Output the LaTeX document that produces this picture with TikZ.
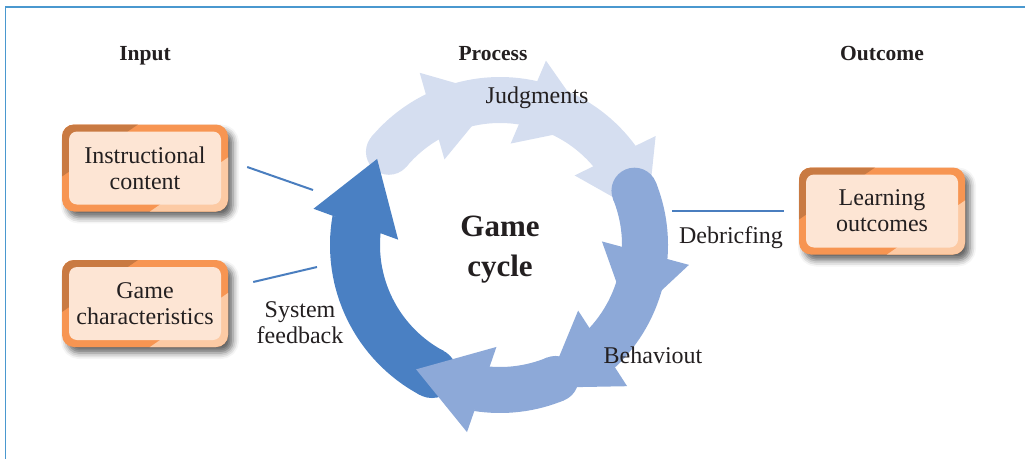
\documentclass[tikz,border=0pt]{standalone}
\usepackage{fontspec}
\setmainfont{Liberation Serif}
\usetikzlibrary{shadows.blur}

\definecolor{framecol}{HTML}{4A98CF}
\definecolor{linkcol}{HTML}{4A7EBF}
\definecolor{cyclight}{HTML}{D5DEF0}
\definecolor{cycmid}{HTML}{8DA9D8}
\definecolor{cycdark}{HTML}{4A80C3}
\definecolor{boxdark}{HTML}{C97A42}
\definecolor{boxmid}{HTML}{F79552}
\definecolor{boxlight}{HTML}{FCCAA4}
\definecolor{boxfill}{HTML}{FDE5D4}
\definecolor{txt}{HTML}{231F20}

% one curved piece of the ring: colour, tail angle, head angle, width
% (angles run clockwise, measured from the right)
\newcommand*{\cyclearrow}[4]{%
	\fill[#1] (-#2:145) circle[radius=#4/2];
	\draw[#1,line width=#4] (-#2:145) arc[start angle=-#2,end angle=-#3-3,radius=145pt];
	\fill[#1] (-#3+4:102) -- (-#3-4:190) -- (-#3-28:150) -- cycle;
}

\tikzset{
	headline/.style={text=txt,anchor=base,font=\fontsize{21.5}{24}\selectfont\bfseries},
	label/.style={text=txt,align=center,font=\fontsize{24}{26}\selectfont},
	link/.style={linkcol,line width=2pt},
	outbox/.style={rounded corners=12pt,minimum width=166pt,minimum height=87pt,
		fill=boxmid,text=txt,align=center,font=\fontsize{24}{26}\selectfont,
		blur shadow={shadow xshift=5pt,shadow yshift=-6pt,shadow blur radius=6pt,shadow opacity=60},
		path picture={
			\fill[boxdark,sharp corners] ([shift={(-5,5)}]path picture bounding box.north west)
				-- ++(88.3,0) -- ([shift={(-5,-55.4)}]path picture bounding box.north west) -- cycle;
			\fill[boxlight,sharp corners] ([shift={(5,-5)}]path picture bounding box.south east)
				-- ++(-90.2,0) -- ([shift={(5,57.5)}]path picture bounding box.south east) -- cycle;
			\fill[boxfill,rounded corners=8pt] ([shift={(7,-7)}]path picture bounding box.north west)
				rectangle ([shift={(-7,7)}]path picture bounding box.south east);
		}},
}

\begin{document}
\begin{tikzpicture}[x=1pt,y=1pt]
	\useasboundingbox (0,0) rectangle (1025,459);

	% frame
	\draw[framecol,line width=2pt] (5,452) -- (1025,452);
	\draw[framecol,line width=1pt] (5,452) -- (5,0);

	% column titles
	\node[headline] (input) at (145,399) {Input};
	\node[headline] (process) at (493,399) {Process};
	\node[headline] (outcome) at (882,399) {Outcome};

	% orange boxes
	\node[outbox] (content) at (145,291) {Instructional\\content};
	\node[outbox] (traits) at (145,155.5) {Game\\characteristics};
	\node[outbox] (learning) at (882,248) {Learning\\outcomes};

	% the ring
	\begin{scope}[shift={(500,214)}]
		\cyclearrow{cyclight}{220}{241}{46pt}
		\cyclearrow{cyclight}{250}{280}{46pt}
		\cyclearrow{cyclight}{290}{321}{46pt}
		\cyclearrow{cycmid}{338}{362}{46pt}
		\cyclearrow{cycmid}{372}{404}{46pt}
		\cyclearrow{cycdark}{478}{547}{50pt}
		\cyclearrow{cycmid}{427.5}{456}{46pt}
	\end{scope}

	\node[label] (judge) at (537,361) {Judgments};
	\node[label] (behave) at (653,104) {Behaviout};
	\node[text=txt,align=center,font=\fontsize{31}{40}\selectfont\bfseries] (cycle) at (500,209) {Game\\cycle};

	% connection lines
	\coordinate (fbtop) at (313,269);
	\coordinate (fbbot) at (317,192);
	\coordinate (debrief) at (672,248);
	\draw[link] ([shift={(19,1)}]content.east) -- (fbtop);
	\draw[link] ([shift={(25,21.5)}]traits.east) -- (fbbot);
	\draw[link] ([xshift=-15]learning.west) -- (debrief);

	\node[label] (feedback) at (300,136) {System\\feedback};
	\node[label] (debriefing) at (731,221) {Debricfing};
\end{tikzpicture}
\end{document}
